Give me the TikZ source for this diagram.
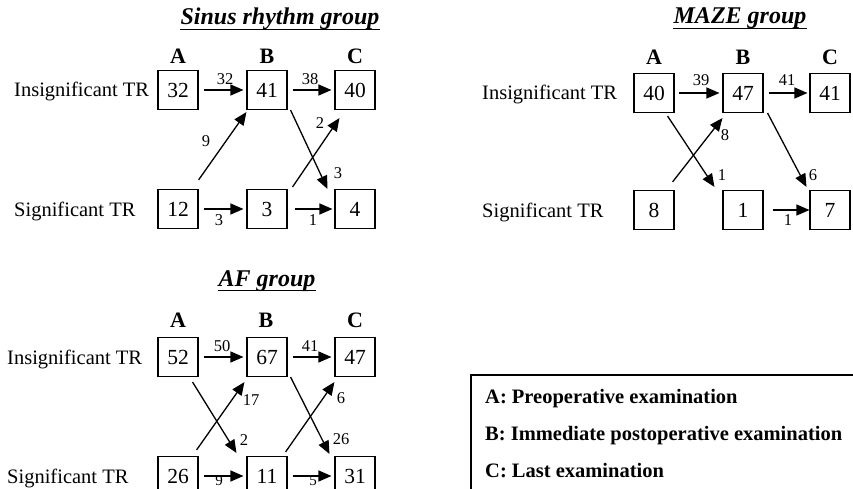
\documentclass[tikz,border=0pt]{standalone}
\usepackage{fontspec}
\setmainfont{Liberation Serif}
\usetikzlibrary{arrows.meta}
\begin{document}
\begin{tikzpicture}[x=1pt,y=-1pt,
  cell/.style={draw, line width=1.1pt, minimum width=40pt, minimum height=39pt, inner sep=0pt, font=\fontsize{21.5}{23}\selectfont},
  rowlab/.style={anchor=base west, inner sep=0pt, font=\fontsize{20.5}{22}\selectfont},
  col/.style={inner sep=0pt, font=\fontsize{22}{24}\selectfont\bfseries},
  ttl/.style={anchor=base, inner sep=0pt, font=\fontsize{24}{26}\selectfont\bfseries\itshape},
  num/.style={inner sep=0pt, font=\fontsize{16.5}{18}\selectfont},
  arr/.style={line width=1.3pt, -{Triangle[length=13pt,width=11pt]}},
  uline/.style={line width=1.2pt},
  leg/.style={anchor=base west, inner sep=0pt, font=\fontsize{20.5}{22}\selectfont\bfseries}
]
\useasboundingbox (0,0) rectangle (853,489);
\clip (0,0) rectangle (853,489);

% ---------------- Sinus rhythm group ----------------
\node[ttl] (t1) at (280,25) {Sinus rhythm group};
\draw[uline] ([yshift=-4.5pt]t1.base west) -- ([yshift=-4.5pt]t1.base east);
\node[col] (a1) at (178,56) {A};
\node[col] (b1) at (267,56) {B};
\node[col] (c1) at (355,56) {C};
\node[rowlab] (r1i) at (14,97) {Insignificant TR};
\node[rowlab] (r1s) at (14,216) {Significant TR};
\node[cell] (sA1) at (178,90) {32};
\node[cell] (sB1) at (267,90) {41};
\node[cell] (sC1) at (355,90) {40};
\node[cell] (sA2) at (178,209) {12};
\node[cell] (sB2) at (267,209) {3};
\node[cell] (sC2) at (355,209) {4};
\draw[arr, shorten <=5pt, shorten >=3pt] (sA1) -- (sB1);
\draw[arr, shorten <=5pt, shorten >=3pt] (sB1) -- (sC1);
\draw[arr, shorten <=5pt, shorten >=3pt] (sA2) -- (sB2);
\draw[arr, shorten <=7pt, shorten >=2pt] (sB2) -- (sC2);
\draw[arr] ([yshift=9pt]sA2.north east) -- ([yshift=-2pt]sB1.south west);
\draw[arr] ([xshift=3pt]sB1.south east) -- ([xshift=-7pt]sC2.north west);
\draw[arr] ([xshift=5pt,yshift=2pt]sB2.north east) -- ([xshift=5pt,yshift=-8pt]sC1.south west);
\node[num] (l1a) at (225,79) {32};
\node[num] (l1b) at (310,79) {38};
\node[num] (l1c) at (206,141) {9};
\node[num] (l1d) at (320,123) {2};
\node[num] (l1e) at (338,173) {3};
\node[num] (l1f) at (219,220) {3};
\node[num] (l1g) at (313,220) {1};

% ---------------- MAZE group ----------------
\node[ttl] (t2) at (740,24) {MAZE group};
\draw[uline] ([yshift=-4.5pt]t2.base west) -- ([yshift=-4.5pt]t2.base east);
\node[col] (a2) at (654,57) {A};
\node[col] (b2) at (743,57) {B};
\node[col] (c2) at (830,57) {C};
\node[rowlab] (r2i) at (482,100) {Insignificant TR};
\node[rowlab] (r2s) at (482,217) {Significant TR};
\node[cell] (mA1) at (654,93) {40};
\node[cell] (mB1) at (743,93) {47};
\node[cell] (mC1) at (830,93) {41};
\node[cell] (mA2) at (654,210) {8};
\node[cell] (mB2) at (743,210) {1};
\node[cell] (mC2) at (830,210) {7};
\draw[arr, shorten <=4pt, shorten >=3pt] (mA1) -- (mB1);
\draw[arr, shorten <=5pt, shorten >=2pt] (mB1) -- (mC1);
\draw[arr, shorten <=9pt, shorten >=0pt] (mB2) -- (mC2);
\draw[arr] ([xshift=-7pt,yshift=-3pt]mA1.south east) -- ([xshift=-8pt,yshift=3pt]mB2.north west);
\draw[arr] ([xshift=-2pt,yshift=8pt]mA2.north east) -- ([yshift=-5pt]mB1.south west);
\draw[arr] ([xshift=4pt]mB1.south east) -- ([xshift=-3pt,yshift=3pt]mC2.north west);
\node[num] (l2a) at (701,80) {39};
\node[num] (l2b) at (787,80) {41};
\node[num] (l2c) at (725,135) {8};
\node[num] (l2d) at (722,175) {1};
\node[num] (l2e) at (813,175) {6};
\node[num] (l2f) at (788,220) {1};

% ---------------- AF group ----------------
\node[ttl] (t3) at (267,286) {AF group};
\draw[uline] ([yshift=-4.5pt]t3.base west) -- ([yshift=-4.5pt]t3.base east);
\node[col] (a3) at (178,320) {A};
\node[col] (b3) at (266,320) {B};
\node[col] (c3) at (355,320) {C};
\node[rowlab] (r3i) at (7,364) {Insignificant TR};
\node[rowlab] (r3s) at (7,483) {Significant TR};
\node[cell] (fA1) at (178,357) {52};
\node[cell] (fB1) at (267,357) {67};
\node[cell] (fC1) at (355,357) {47};
\node[cell] (fA2) at (178,476) {26};
\node[cell] (fB2) at (267,476) {11};
\node[cell] (fC2) at (355,476) {31};
\draw[arr, shorten <=5pt, shorten >=3pt] (fA1) -- (fB1);
\draw[arr, shorten <=5pt, shorten >=3pt] (fB1) -- (fC1);
\draw[arr, shorten <=5pt, shorten >=3pt] (fA2) -- (fB2);
\draw[arr, shorten <=5pt, shorten >=3pt] (fB2) -- (fC2);
\draw[arr] ([xshift=-6pt,yshift=-5pt]fA1.south east) -- ([xshift=-10pt,yshift=3pt]fB2.north west);
\draw[arr] ([xshift=-2pt,yshift=6pt]fA2.north east) -- ([xshift=-2pt,yshift=-5pt]fB1.south west);
\draw[arr] ([xshift=3pt]fB1.south east) -- ([xshift=-5pt,yshift=2pt]fC2.north west);
\draw[arr] ([xshift=-2pt,yshift=4pt]fB2.north east) -- ([yshift=-5pt]fC1.south west);
\node[num] (l3a) at (222,346) {50};
\node[num] (l3b) at (310,346) {41};
\node[num] (l3c) at (251,400) {17};
\node[num] (l3d) at (244,440) {2};
\node[num] (l3e) at (341,398) {6};
\node[num] (l3f) at (341,439) {26};
\node[num, anchor=base, font=\fontsize{15}{16}\selectfont] (l3g) at (219,485) {9};
\node[num, anchor=base, font=\fontsize{15}{16}\selectfont] (l3h) at (313,485) {5};

% ---------------- Legend ----------------
\draw[line width=1.1pt] (471,375) rectangle (858,495);
\node[leg] (g1) at (485,403) {A: Preoperative examination};
\node[leg] (g2) at (485,440) {B: Immediate postoperative examination};
\node[leg] (g3) at (485,477) {C: Last examination};
\end{tikzpicture}
\end{document}
